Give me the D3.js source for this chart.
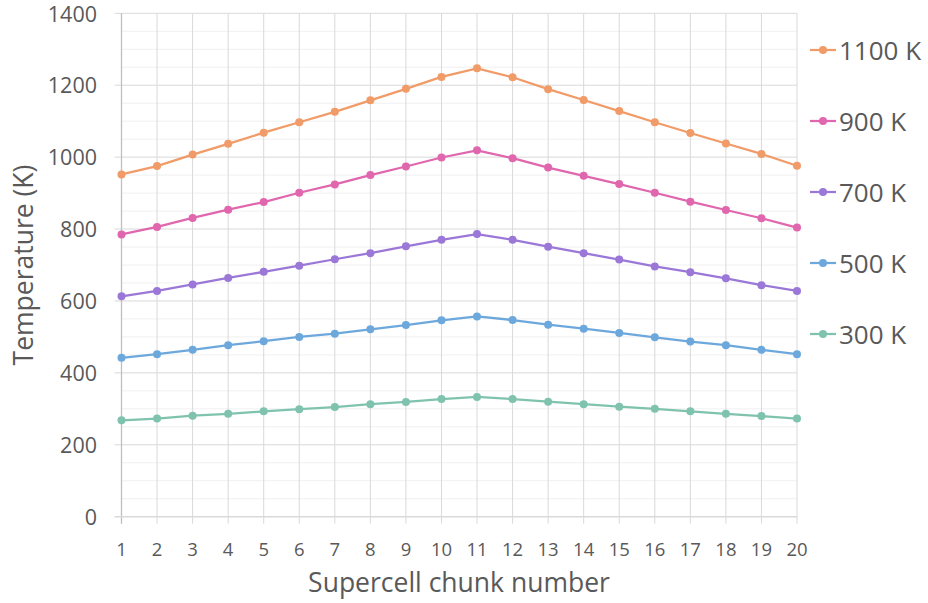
<!DOCTYPE html>
<html lang="en">
<head>
    <meta charset="UTF-8">
    <title>Supercell temperature</title>
    <script src="https://cdn.jsdelivr.net/npm/d3@7"></script>
    <style>
        body { margin: 0; background: #fff; }
        text { font-family: "Open Sans", sans-serif; fill: #595959; }
    </style>
</head>
<body>
</body>
<script>
    var width = 928
    var height = 603

    // data
    var chunks = d3.range(1, 21)
    var seriesNames = ['1100 K', '900 K', '700 K', '500 K', '300 K']
    var t1100 = [952, 975, 1007, 1037, 1068, 1097, 1126, 1158, 1190, 1223, 1247, 1222, 1189, 1159, 1128, 1097, 1067, 1038, 1009, 976]
    var t900 = [785, 806, 831, 854, 875, 901, 924, 950, 974, 999, 1019, 997, 971, 948, 925, 901, 876, 853, 830, 804]
    var t700 = [613, 628, 646, 664, 681, 698, 716, 733, 752, 770, 786, 770, 751, 733, 715, 696, 680, 663, 644, 628]
    var t500 = [442, 452, 464, 477, 488, 500, 509, 521, 533, 546, 557, 547, 534, 523, 511, 499, 487, 477, 464, 452]
    var t300 = [268, 273, 281, 286, 293, 299, 305, 313, 319, 327, 333, 327, 320, 313, 306, 300, 293, 286, 280, 273]
    var yTicks = [0, 200, 400, 600, 800, 1000, 1200, 1400]
    var colors = ['#F09B68', '#E067AE', '#9B78D8', '#6DA8DD', '#7FC3AE']

    var allSeries = [t1100, t900, t700, t500, t300]

    var svg = d3.select('body')
        .append('svg')
        .attr('width', width)
        .attr('height', height);

    var x = d3.scaleLinear().domain([1, 20]).range([121.5, 797])
    var y = d3.scaleLinear().domain([0, 1400]).range([516.7, 13.3])

    // minor gridlines every 50
    svg.append('g').selectAll('line')
        .data(d3.range(50, 1400, 50).filter(d => d % 200 !== 0))
        .enter().append('line')
        .attr('x1', x(1)).attr('x2', x(20))
        .attr('y1', d => y(d)).attr('y2', d => y(d))
        .attr('stroke', '#f0f0f0').attr('stroke-width', 1);

    // vertical gridlines
    svg.append('g').selectAll('line')
        .data(chunks.slice(1))
        .enter().append('line')
        .attr('x1', d => x(d)).attr('x2', d => x(d))
        .attr('y1', y(1400)).attr('y2', y(0) + 7)
        .attr('stroke', '#d9d9d9').attr('stroke-width', 1);

    // major gridlines
    svg.append('g').selectAll('line')
        .data(yTicks.slice(1))
        .enter().append('line')
        .attr('x1', x(1) - 7).attr('x2', x(20))
        .attr('y1', d => y(d)).attr('y2', d => y(d))
        .attr('stroke', '#d9d9d9').attr('stroke-width', 1);

    // axes lines
    svg.append('line')
        .attr('x1', x(1)).attr('x2', x(1))
        .attr('y1', y(1400)).attr('y2', y(0) + 7)
        .attr('stroke', '#bfbfbf').attr('stroke-width', 1.3);
    svg.append('line')
        .attr('x1', x(1) - 7).attr('x2', x(20))
        .attr('y1', y(0)).attr('y2', y(0))
        .attr('stroke', '#d9d9d9').attr('stroke-width', 1.5);

    // y tick labels
    svg.append('g').selectAll('text')
        .data(yTicks)
        .enter().append('text')
        .attr('x', 97)
        .attr('y', d => y(d) + 8.2)
        .attr('text-anchor', 'end')
        .style('font-size', '21.5px')
        .text(d => d);

    // x tick labels
    svg.append('g').selectAll('text')
        .data(chunks)
        .enter().append('text')
        .attr('x', d => x(d))
        .attr('y', 556)
        .attr('text-anchor', 'middle')
        .style('font-size', '18.5px')
        .text(d => d);

    // axis titles
    svg.append('text')
        .attr('x', 459).attr('y', 592)
        .attr('text-anchor', 'middle')
        .style('font-size', '26.5px')
        .text('Supercell chunk number');
    svg.append('text')
        .attr('transform', 'translate(33,265) rotate(-90)')
        .attr('text-anchor', 'middle')
        .style('font-size', '26.5px')
        .text('Temperature (K)');

    // series
    var line = d3.line()
        .x((d, i) => x(chunks[i]))
        .y(d => y(d));

    allSeries.forEach(function (s, k) {
        var g = svg.append('g');
        g.append('path')
            .attr('d', line(s))
            .attr('fill', 'none')
            .attr('stroke', colors[k])
            .attr('stroke-width', 2.25);
        g.selectAll('circle')
            .data(s)
            .enter().append('circle')
            .attr('cx', (d, i) => x(chunks[i]))
            .attr('cy', d => y(d))
            .attr('r', 4)
            .attr('fill', colors[k]);
    });

    // legend
    var legend = svg.append('g').selectAll('g')
        .data(seriesNames)
        .enter().append('g')
        .attr('transform', (d, i) => 'translate(0,' + (50 + i * 71) + ')');
    legend.append('line')
        .attr('x1', 810).attr('x2', 836)
        .attr('stroke', (d, i) => colors[i])
        .attr('stroke-width', 2.25);
    legend.append('circle')
        .attr('cx', 823).attr('r', 4)
        .attr('fill', (d, i) => colors[i]);
    legend.append('text')
        .attr('x', 839).attr('y', 9.5)
        .style('font-size', '26px')
        .text(d => d);
</script>
</html>
